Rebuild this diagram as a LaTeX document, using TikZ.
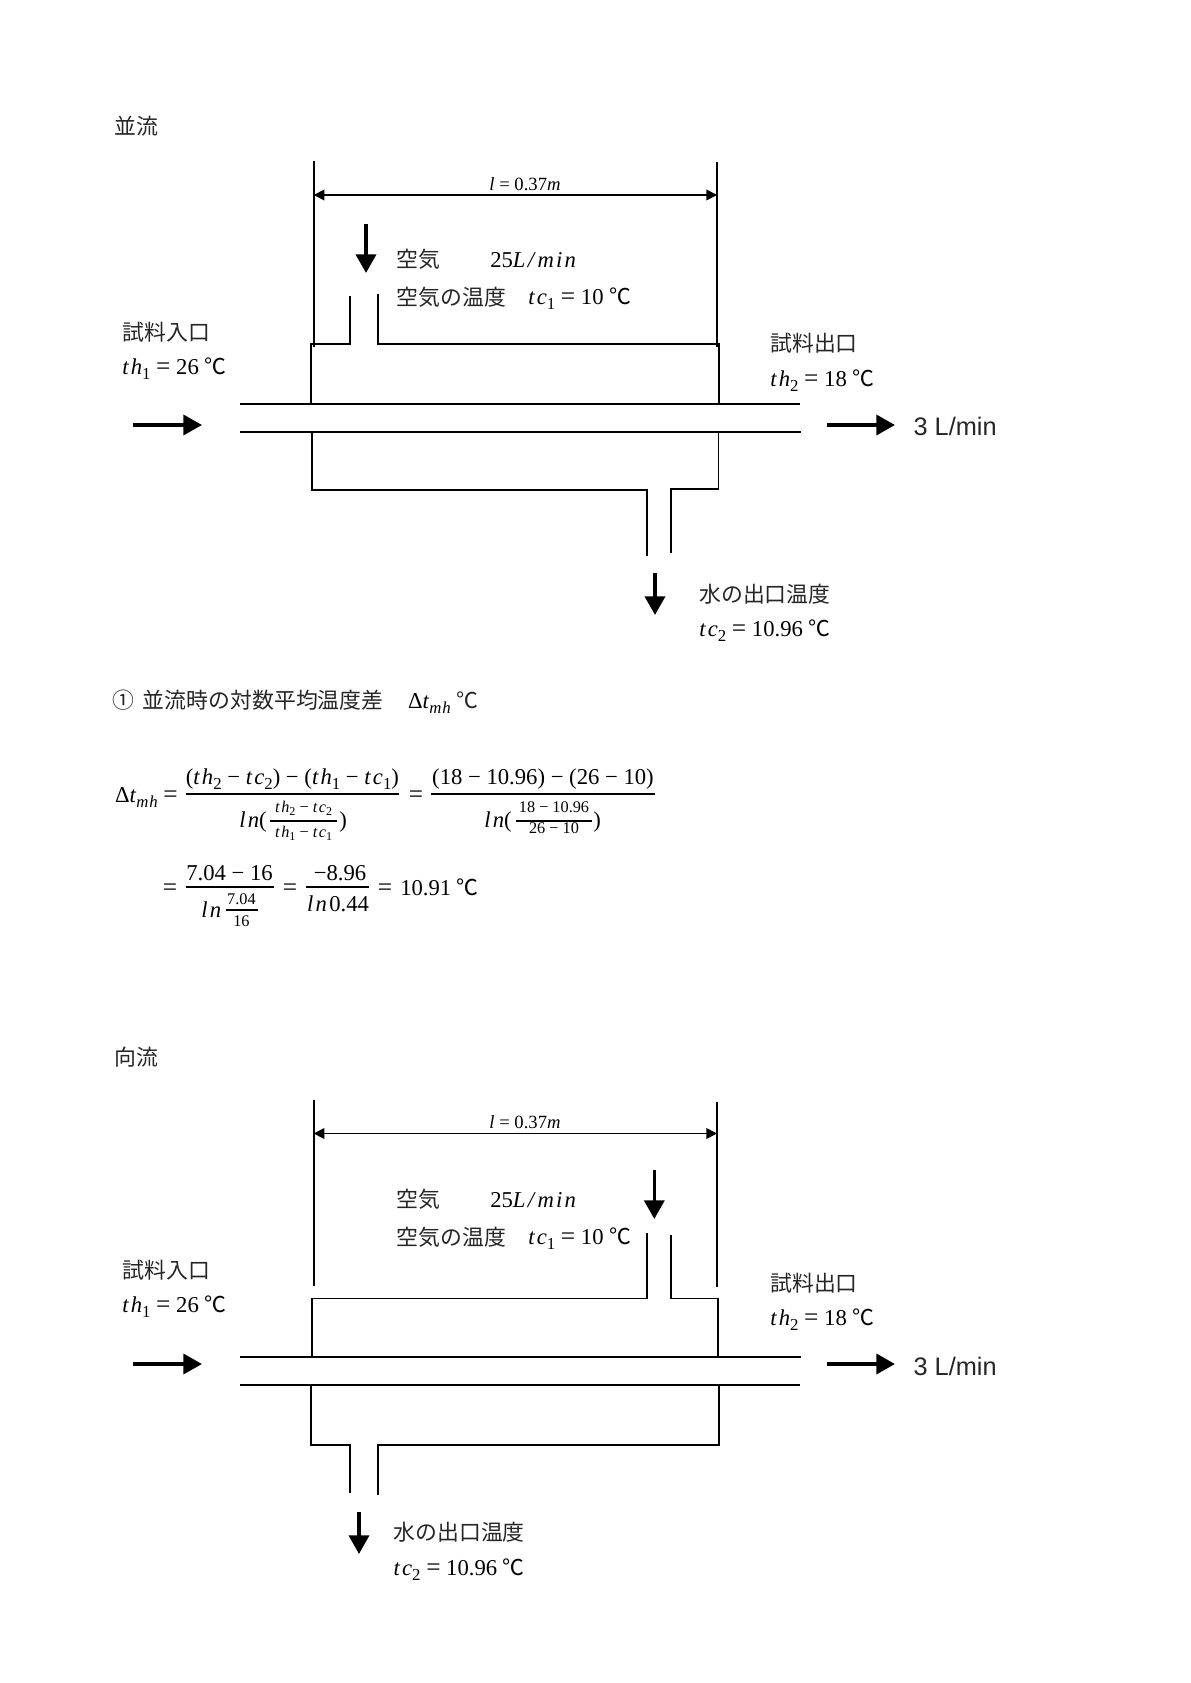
\documentclass[tikz,border=0pt]{standalone}
\usepackage{fontspec}
\setmainfont{Liberation Serif}
\newfontfamily\cjk{Noto Sans CJK JP}
\newfontfamily\lat{Liberation Sans}
\usetikzlibrary{arrows.meta}
\newcommand{\dgc}{{\cjk\fontsize{16.4}{16}\selectfont ℃}}
\newcommand{\sbb}[1]{\raisebox{-0.24em}{\fontsize{0.74em}{0.74em}\selectfont #1}}
\newcommand{\mnm}{\kern0.25em−\kern0.25em}
\newcommand{\eqq}{\kern0.25em{\fontsize{1.12em}{1em}\selectfont =}\kern0.25em}
\newcommand{\vth}[1]{\textit{t\kern0.1em h}\sbb{#1}}
\newcommand{\vtc}[1]{\textit{t\kern0.1em c}\sbb{#1}}
\newcommand{\vln}{\textit{l\kern0.1em n}}
\newcommand{\dtm}{Δ\textit{t}\sbb{\textit{m\kern0.05em h}}}
\tikzset{
 x=0.75pt,y=-0.75pt,
 wire/.style={line width=1.4pt,line join=miter},
 bar/.style={line width=1pt},
 barsm/.style={line width=0.8pt},
 dimline/.style={line width=1.3pt,{Triangle[length=8pt,width=8pt]}-{Triangle[length=8pt,width=8pt]}},
 flow/.style={line width=2.7pt,-{Triangle[length=14pt,width=15pt]}},
 jp/.style={anchor=west,inner sep=0pt,text=black!85,font=\cjk\fontsize{16.4}{16}\selectfont},
 tx/.style={anchor=base west,inner sep=0pt,font=\fontsize{17}{17}\selectfont},
 ctx/.style={anchor=base,inner sep=0pt,font=\fontsize{17}{17}\selectfont},
 sm/.style={anchor=base,inner sep=0pt,font=\fontsize{12.2}{12}\selectfont},
 dimtx/.style={anchor=center,inner sep=0pt,font=\fontsize{14}{14}\selectfont},
 sans/.style={anchor=base west,inner sep=0pt,text=black!85,font=\lat\fontsize{19}{19}\selectfont},
}
\begin{document}
\begin{tikzpicture}
\useasboundingbox (0,0) rectangle (1190,1683);
\fill[white] (0,0) rectangle (1190,1683);
% ---------- parallel flow ----------
\node[jp] (t1) at (114,126) {並流};
\draw[wire] (313.7,161)--(313.7,347);
\draw[wire] (717,162)--(717,347);
\draw[dimline] (313.7,195)--(717,195);
\node[dimtx] (len1) at (525,184) {\textit{l} = 0.37\textit{m}};
\draw[wire] (311,404)--(311,344.3)--(349.7,344.3)--(349.7,296);
\draw[wire] (378,294)--(378,344.3)--(719.3,344.3)--(719.3,404);
\draw[wire] (240,404)--(800,404);
\draw[wire] (240,432.3)--(801,432.3);
\draw[wire] (311.7,432.3)--(311.7,490)--(647.3,490)--(647.3,555.7);
\draw[wire] (670.7,553)--(670.7,489.3)--(718.5,489.3)--(718.5,432.3);
\draw[flow] (133,425)--(202,425);
\draw[flow] (827,425)--(895,425);
\draw[flow] (366,224)--(366,273);
\draw[flow] (655,573)--(655,615);
\node[jp] (a1) at (396.7,259.5) {空気};
\node[tx] (a1v) at (490,267.5) {25\textit{L\kern0.1em/\kern0.15em m\kern0.1em i\kern0.1em n}};
\node[jp] (a2) at (396.7,297) {空気の温度};
\node[tx] (a2v) at (528,304.5) {\vtc{1}\eqq 10 \dgc};
\node[jp] (i1) at (122.3,332) {試料入口};
\node[tx] (i1v) at (122,374) {\vth{1}\eqq 26 \dgc};
\node[jp] (o1) at (770,343.2) {試料出口};
\node[tx] (o1v) at (770,386) {\vth{2}\eqq 18 \dgc};
\node[sans] (q1) at (913.3,435.7) {3 L/min};
\node[jp] (w1) at (699,594) {水の出口温度};
\node[tx] (w1v) at (699,636) {\vtc{2}\eqq 10.96 \dgc};
% ---------- formula ----------
\node[jp] (c0) at (112.7,700) {①};
\node[jp] (c1) at (142.7,700) {並流時の対数平均温度差};
\node[tx] (c2) at (407.8,708) {\dtm};
\node[jp] (c3) at (456,700) {℃};
\node[tx] (f0) at (114.8,802) {\dtm\eqq};
\draw[bar] (185.6,794)--(399,794);
\node[ctx] (f1n) at (292.4,784) {(\vth{2}\mnm\vtc{2})\mnm(\vth{1}\mnm\vtc{1})};
\node[tx] (f1d) at (239,827) {\vln(};
\draw[barsm] (270,821)--(337,821);
\node[sm] (f1dn) at (303.7,812) {\vth{2}\mnm\vtc{2}};
\node[sm] (f1dd) at (303.7,837) {\vth{1}\mnm\vtc{1}};
\node[tx] (f1e) at (339,827) {)};
\node[ctx] (e1) at (416,802) {\fontsize{19}{19}\selectfont =};
\draw[bar] (431,794)--(654.5,794);
\node[ctx] (f2n) at (543,784) {(18\mnm 10.96)\mnm(26\mnm 10)};
\node[tx] (f2d) at (484,827) {\vln(};
\draw[barsm] (516,821)--(592,821);
\node[sm] (f2dn) at (554,812) {18\mnm 10.96};
\node[sm] (f2dd) at (554,833.5) {26\mnm 10};
\node[tx] (f2e) at (593,827) {)};
\node[ctx] (e2) at (170,895) {\fontsize{19}{19}\selectfont =};
\draw[bar] (185.6,887)--(273.6,887);
\node[ctx] (f3n) at (229.6,880) {7.04\mnm 16};
\node[tx] (f3d) at (201,917) {\vln};
\draw[barsm] (226,910)--(257.5,910);
\node[sm] (f3dn) at (241.4,904.6) {7.04};
\node[sm] (f3dd) at (241.4,926) {16};
\node[ctx] (e3) at (290,895) {\fontsize{19}{19}\selectfont =};
\draw[bar] (306,887)--(369,887);
\node[ctx] (f4n) at (340,880) {−8.96};
\node[ctx] (f4d) at (338,911) {\vln\kern0.1em 0.44};
\node[ctx] (e4) at (385,895) {\fontsize{19}{19}\selectfont =};
\node[tx] (f5) at (400,895) {10.91 \dgc};
% ---------- counter flow ----------
\node[jp] (t2) at (114,1057) {向流};
\draw[wire] (313.7,1100)--(313.7,1286);
\draw[wire] (717,1102)--(717,1287);
\draw[dimline] (313.7,1133.5)--(717,1133.5);
\node[dimtx] (len2) at (525,1122.6) {\textit{l} = 0.37\textit{m}};
\draw[wire] (311.7,1356.7)--(311.7,1298.5)--(647.3,1298.5)--(647.3,1233.3);
\draw[wire] (670.7,1235)--(670.7,1298.5)--(718,1298.5)--(718,1356.7);
\draw[wire] (240,1356.7)--(801,1356.7);
\draw[wire] (240,1384.7)--(800,1384.7);
\draw[wire] (311,1384.7)--(311,1444.7)--(349.7,1444.7)--(349.7,1493);
\draw[wire] (378,1495)--(378,1444.7)--(719.3,1444.7)--(719.3,1384.7);
\draw[flow] (133,1364)--(202,1364);
\draw[flow] (827,1364)--(895,1364);
\draw[flow] (654.3,1170)--(654.3,1219);
\draw[flow] (359,1512)--(359,1554);
\node[jp] (a3) at (396.7,1199.5) {空気};
\node[tx] (a3v) at (490,1207.5) {25\textit{L\kern0.1em/\kern0.15em m\kern0.1em i\kern0.1em n}};
\node[jp] (a4) at (396.7,1237) {空気の温度};
\node[tx] (a4v) at (528,1244.5) {\vtc{1}\eqq 10 \dgc};
\node[jp] (i2) at (122.3,1270.5) {試料入口};
\node[tx] (i2v) at (122,1312) {\vth{1}\eqq 26 \dgc};
\node[jp] (o2) at (770,1283.2) {試料出口};
\node[tx] (o2v) at (770,1325) {\vth{2}\eqq 18 \dgc};
\node[sans] (q2) at (913.3,1375) {3 L/min};
\node[jp] (w2) at (393.3,1532.5) {水の出口温度};
\node[tx] (w2v) at (393.3,1575) {\vtc{2}\eqq 10.96 \dgc};
\end{tikzpicture}
\end{document}
